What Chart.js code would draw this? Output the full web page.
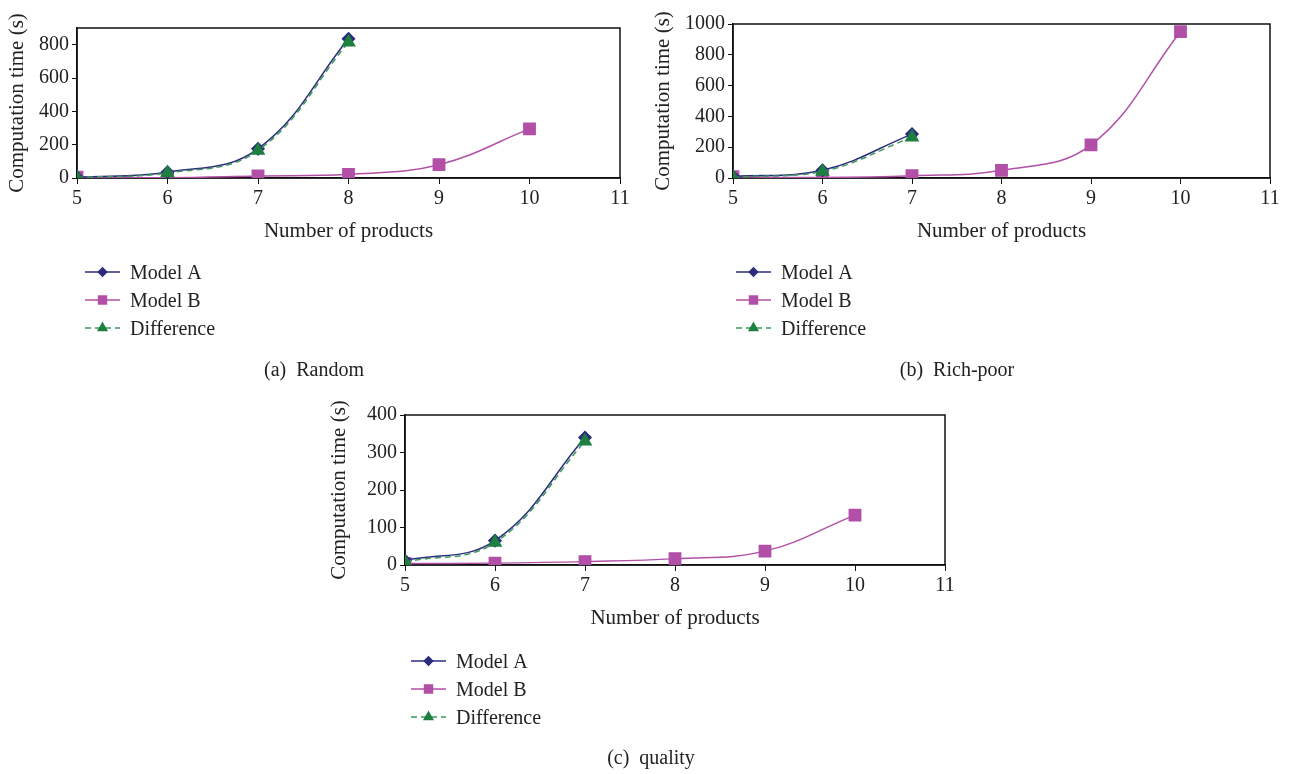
<!DOCTYPE html>
<html lang="en">
<head>
<meta charset="UTF-8">
<title>Computation time</title>
<script src="https://cdn.jsdelivr.net/npm/chart.js"></script>
<style>
    body { margin: 0; width: 1290px; height: 774px; background: #fff; position: relative; overflow: hidden; }
    canvas { position: absolute; }
    .caption { position: absolute; font-family: "Liberation Serif", serif; font-size: 20px; color: #222; transform: translateX(-50%); white-space: nowrap; }
</style>
</head>
<body>
<canvas id="chartA" width="645" height="390" style="left:0;top:0"></canvas>
<canvas id="chartB" width="640" height="390" style="left:650px;top:0"></canvas>
<canvas id="chartC" width="650" height="384" style="left:320px;top:390px"></canvas>
<div class="caption" style="left:314px;top:358px">(a)&nbsp; Random</div>
<div class="caption" style="left:957px;top:358px">(b)&nbsp; Rich-poor</div>
<div class="caption" style="left:651px;top:746px">(c)&nbsp; quality</div>

<script>
    const products = [5, 6, 7, 8, 9, 10];
    const seriesNames = ['Model A', 'Model B', 'Difference'];

    // (a) Random
    const randomA = [5, 35, 175, 835];
    const randomB = [5, 2, 12, 22, 80, 295];
    const randomDiff = [3, 30, 165, 815];

    // (b) Rich-poor
    const richA = [10, 50, 285];
    const richB = [8, 3, 15, 50, 215, 950];
    const richDiff = [5, 42, 265];

    // (c) quality
    const qualityA = [12, 65, 340];
    const qualityB = [4, 5, 9, 17, 37, 133];
    const qualityDiff = [8, 60, 330];

    const serif = '"Liberation Serif", "DejaVu Serif", serif';
    const navy = '#2b2c7c';
    const magenta = '#b24fa6';
    const green = '#1d8040';

    function toPoints(vals) {
        return vals.map((v, i) => ({ x: products[i], y: v }));
    }

    // frame around the plot area
    const boxPlugin = {
        id: 'box',
        beforeDatasetsDraw(chart) {
            const { ctx, chartArea: a } = chart;
            ctx.save();
            ctx.strokeStyle = '#111';
            ctx.lineWidth = 1.5;
            ctx.strokeRect(a.left, a.top, a.right - a.left, a.bottom - a.top);
            ctx.restore();
        }
    };

    // vertical legend under the x axis
    const legendPlugin = {
        id: 'vlegend',
        afterDraw(chart, args, opts) {
            const ctx = chart.ctx;
            ctx.save();
            chart.data.datasets.forEach((ds, i) => {
                const y = opts.y + i * opts.gap;
                ctx.strokeStyle = ds.borderColor;
                ctx.lineWidth = 1.5;
                ctx.setLineDash(ds.borderDash || []);
                ctx.beginPath();
                ctx.moveTo(opts.x, y);
                ctx.lineTo(opts.x + 35, y);
                ctx.stroke();
                ctx.setLineDash([]);
                ctx.fillStyle = ds.pointBackgroundColor;
                ctx.strokeStyle = ds.pointBackgroundColor;
                Chart.helpers.drawPoint(ctx, {
                    pointStyle: ds.pointStyle, radius: ds.pointRadius * 0.7, rotation: 0, borderWidth: 1
                }, opts.x + 17.5, y);
                ctx.fillStyle = '#222';
                ctx.font = '20px ' + serif;
                ctx.textBaseline = 'middle';
                ctx.fillText(ds.label, opts.x + 45, y + 1.5);
            });
            ctx.restore();
        }
    };

    function makeChart(id, a, b, diff, yMax, yStep, labelEvery, geo) {
        const ctx = document.getElementById(id).getContext('2d');
        const data = {
            datasets: [{
                label: seriesNames[0],
                data: toPoints(a),
                borderColor: navy,
                backgroundColor: navy,
                pointBackgroundColor: navy,
                pointBorderColor: navy,
                pointStyle: 'rectRot',
                pointRadius: 6,
                borderWidth: 1.5,
                tension: 0.4,
                order: 2
            }, {
                label: seriesNames[1],
                data: toPoints(b),
                borderColor: magenta,
                backgroundColor: magenta,
                pointBackgroundColor: magenta,
                pointBorderColor: magenta,
                pointStyle: 'rect',
                pointRadius: 8,
                borderWidth: 1.5,
                tension: 0.4,
                order: 3
            }, {
                label: seriesNames[2],
                data: toPoints(diff),
                borderColor: '#3c9a5c',
                backgroundColor: green,
                pointBackgroundColor: green,
                pointBorderColor: green,
                pointStyle: 'triangle',
                pointRadius: 7,
                borderWidth: 1.5,
                borderDash: [6, 4],
                tension: 0.4,
                order: 1
            }]
        };

        const config = {
            type: 'line',
            data: data,
            options: {
                responsive: false,
                animation: false,
                layout: { padding: { left: 0, top: geo.top, right: geo.right, bottom: geo.bottom } },
                scales: {
                    x: {
                        type: 'linear',
                        min: 5,
                        max: 11,
                        ticks: { stepSize: 1, color: '#222', font: { family: serif, size: 20 }, padding: 3 },
                        grid: { drawOnChartArea: false, drawTicks: true, tickLength: 6, color: '#111' },
                        border: { color: '#111', width: 1.5 },
                        title: { display: true, text: 'Number of products', color: '#222', font: { family: serif, size: 21 }, padding: 0 },
                        afterFit(scale) { scale.height = geo.xHeight; }
                    },
                    y: {
                        min: 0,
                        max: yMax,
                        ticks: {
                            stepSize: yStep,
                            color: '#222',
                            font: { family: serif, size: 20 },
                            padding: 3,
                            callback: v => (v % labelEvery === 0 ? v : '')
                        },
                        grid: { drawOnChartArea: false, drawTicks: true, tickLength: 5, color: '#111' },
                        border: { color: '#111', width: 1.5 },
                        title: { display: true, text: 'Computation time (s)', color: '#222', font: { family: serif, size: 21 }, padding: { top: geo.titlePad, bottom: 0 } },
                        afterFit(scale) { scale.width = geo.yWidth; }
                    }
                },
                plugins: {
                    legend: { display: false },
                    tooltip: { enabled: false },
                    vlegend: { x: geo.legX, y: geo.legY, gap: 28 }
                }
            },
            plugins: [boxPlugin, legendPlugin]
        };

        return new Chart(ctx, config);
    }

    makeChart('chartA', randomA, randomB, randomDiff, 900, 100, 200,
        { top: 28, right: 25, bottom: 146, xHeight: 66, yWidth: 77, titlePad: 5, legX: 85, legY: 272 });
    makeChart('chartB', richA, richB, richDiff, 1000, 100, 200,
        { top: 24, right: 20, bottom: 146, xHeight: 66, yWidth: 83, titlePad: 1, legX: 86, legY: 272 });
    makeChart('chartC', qualityA, qualityB, qualityDiff, 400, 100, 100,
        { top: 25, right: 25, bottom: 143, xHeight: 66, yWidth: 85, titlePad: 7, legX: 91, legY: 271 });
</script>
</body>
</html>
